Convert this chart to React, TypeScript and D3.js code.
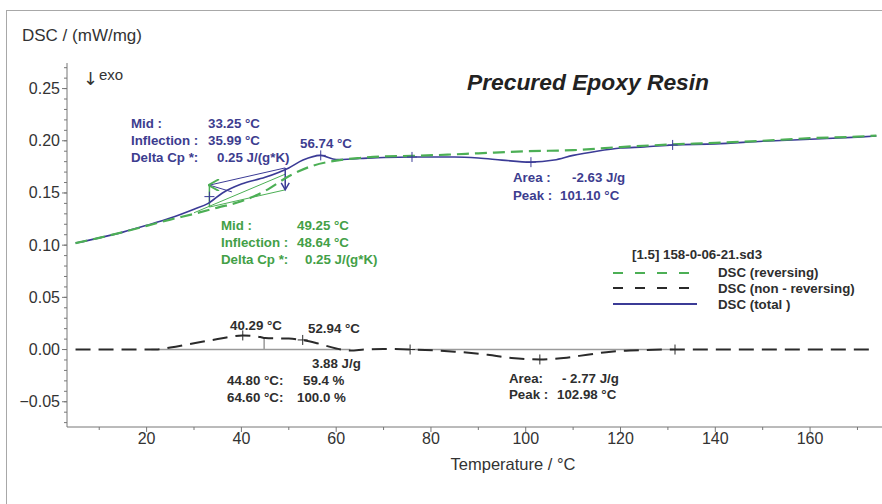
import React from "react";
import * as d3 from "d3";

// ---- data ----
const totalT = [5, 10, 15, 20, 25, 30, 33, 36, 40, 45, 50, 53, 56.7, 60, 65, 70, 76, 85, 90, 95, 101, 106, 110, 115, 120, 125, 131, 140, 150, 160, 170, 174];
const totalV = [0.102, 0.107, 0.1125, 0.119, 0.126, 0.1345, 0.14, 0.15, 0.1585, 0.165, 0.174, 0.1815, 0.186, 0.182, 0.183, 0.184, 0.1845, 0.1845, 0.1835, 0.1815, 0.1795, 0.1815, 0.186, 0.19, 0.193, 0.194, 0.196, 0.197, 0.1995, 0.2015, 0.2035, 0.2045];

const revT = [5, 10, 15, 20, 25, 30, 35, 40, 45, 50, 55, 60, 65, 70, 76, 85, 90, 100, 110, 120, 131, 140, 150, 160, 170, 174];
const revV = [0.102, 0.107, 0.1125, 0.1185, 0.1245, 0.13, 0.136, 0.142, 0.152, 0.166, 0.176, 0.181, 0.1835, 0.185, 0.1855, 0.187, 0.188, 0.19, 0.191, 0.194, 0.1965, 0.198, 0.2, 0.2025, 0.204, 0.205];

const nonRevT = [5, 15, 22, 25, 30, 35, 40.3, 44, 45, 50, 53, 56, 60, 63, 66, 70, 76, 85, 92, 97, 103, 108, 113, 118, 122, 131, 174];
const nonRevV = [0, 0, 0, 0.002, 0.006, 0.01, 0.0135, 0.012, 0.011, 0.0105, 0.009, 0.006, 0.001, -0.001, 0, 0.0005, 0, -0.002, -0.005, -0.008, -0.0095, -0.008, -0.005, -0.002, -0.001, 0, 0];

const totalMarksT = [33.25, 56.74, 76, 101.1, 131];
const totalMarksV = [0.1465, 0.186, 0.1845, 0.1795, 0.196];
const nonRevMarksT = [40.29, 52.94, 75.6, 102.98, 131.5];
const nonRevMarksV = [0.0135, 0.0092, 0, -0.0095, 0];

const yMajor = [-0.05, 0, 0.05, 0.1, 0.15, 0.2, 0.25];
const xLabels = [20, 40, 60, 80, 100, 120, 140, 160];
const xTicks = [10, 20, 30, 40, 50, 60, 70, 80, 90, 100, 110, 120, 130, 140, 150, 160, 170];

const BLUE = "#3b3b96";
const BLUE_TXT = "#3d3d8f";
const GREEN = "#4caf55";
const GREEN_TXT = "#43a047";
const BLACK = "#2a2a2a";
const TXT = "#333";

export default function App() {
  const x = d3.scaleLinear().domain([3.2, 175.6]).range([67, 884]);
  const y = d3.scaleLinear().domain([-0.0742, 0.2745]).range([427, 63]);

  const mk = (ts: number[], vs: number[]) =>
    d3
      .line<number>()
      .x((_, i) => x(ts[i]))
      .y((d) => y(d))
      .curve(d3.curveMonotoneX)(vs) || "";

  const yMinor = d3.range(-7, 28).map((i) => i / 100);

  const cross = (cx: number, cy: number, color: string, key: string) => (
    <g key={key} stroke={color} strokeWidth={1}>
      <line x1={cx - 5} x2={cx + 5} y1={cy} y2={cy} />
      <line x1={cx} x2={cx} y1={cy - 5} y2={cy + 5} />
    </g>
  );

  const ann = { fontFamily: "Liberation Sans, Arial, sans-serif", fontWeight: 700, fontSize: 13.3 } as const;

  return (
    <div style={{ position: "absolute", left: 0, top: 0 }}>
      <svg width={882} height={504} style={{ display: "block", background: "#fff" }}>
        <defs>
          <marker id="ag" viewBox="0 0 10 10" refX="5" refY="1" markerWidth="8" markerHeight="8" orient="auto-start-reverse">
            <path d="M0,9 L5,0 L10,9" fill="none" stroke={GREEN} strokeWidth={1.5} />
          </marker>
        </defs>
        <rect x={6.5} y={10.5} width={1000} height={1000} fill="none" stroke="#a8a8a8" />

        {/* axes */}
        <g stroke="#777" strokeWidth={1}>
          <line x1={67} x2={67} y1={63} y2={427} />
          <line x1={67} x2={884} y1={427} y2={427} />
          {yMinor.map((v) => (
            <line key={"ym" + v} x1={64} x2={67} y1={y(v)} y2={y(v)} />
          ))}
          {yMajor.map((v) => (
            <line key={"yM" + v} x1={62} x2={67} y1={y(v)} y2={y(v)} />
          ))}
          {xTicks.map((t) => (
            <line key={"xt" + t} x1={x(t)} x2={x(t)} y1={427} y2={t % 20 === 0 ? 432 : 430} />
          ))}
        </g>
        <g fontFamily="Liberation Sans, Arial, sans-serif" fontSize={16} fill={TXT}>
          {yMajor.map((v) => (
            <text key={"yl" + v} x={60} y={y(v)} textAnchor="end" dominantBaseline="central">
              {d3.format(".2f")(v)}
            </text>
          ))}
          {xLabels.map((t) => (
            <text key={"xl" + t} x={x(t)} y={438} textAnchor="middle" dominantBaseline="central">
              {t}
            </text>
          ))}
          <text x={513} y={464} textAnchor="middle" dominantBaseline="central" fontSize={16.5}>
            Temperature / °C
          </text>
          <text x={22} y={35} dominantBaseline="central" fontSize={17}>
            DSC / (mW/mg)
          </text>
          <text x={83} y={78} dominantBaseline="central" fontSize={18} fontFamily="DejaVu Sans, sans-serif">
            ↓
          </text>
          <text x={99} y={74} dominantBaseline="central" fontSize={15}>
            exo
          </text>
        </g>
        <text x={467} y={82} fontFamily="Liberation Sans, Arial, sans-serif" fontSize={22.8} fontWeight={700} fontStyle="italic" fill="#222" dominantBaseline="central">
          Precured Epoxy Resin
        </text>

        {/* integration baselines */}
        <g stroke="#9a9a9a" strokeWidth={1.5}>
          <line x1={x(21)} x2={x(63)} y1={y(0)} y2={y(0)} />
          <line x1={x(44.8)} x2={x(44.8)} y1={y(0)} y2={y(0.011)} />
          <line x1={x(76)} x2={x(131)} y1={y(0)} y2={y(0)} />
        </g>

        {/* glass transition construction lines */}
        <g strokeWidth={1}>
          <line x1={x(33.25)} y1={y(0.1575)} x2={x(49.25)} y2={y(0.174)} stroke={BLUE} />
          <line x1={x(33.25)} y1={y(0.1575)} x2={x(38)} y2={y(0.151)} stroke={BLUE} />
          <line x1={x(33.25)} y1={y(0.1365)} x2={x(49.25)} y2={y(0.153)} stroke={GREEN} />
          <line x1={x(30)} y1={y(0.131)} x2={x(49.25)} y2={y(0.168)} stroke={GREEN} />
          <line x1={x(33.25)} y1={y(0.1365)} x2={x(33.25)} y2={y(0.1575)} stroke={GREEN} strokeWidth={1.5} markerEnd="url(#ag)" />
          <line x1={x(49.25)} y1={y(0.174)} x2={x(49.25)} y2={y(0.153)} stroke={BLUE} strokeWidth={1.5} />
          <path d={`M${x(49.25) - 4},${y(0.153) - 7} L${x(49.25)},${y(0.153)} L${x(49.25) + 4},${y(0.153) - 7}`} fill="none" stroke={BLUE} strokeWidth={1.5} />
        </g>

        {/* curves */}
        <path d={mk(nonRevT, nonRevV)} fill="none" stroke={BLACK} strokeWidth={2} strokeDasharray="15,8" />
        <path d={mk(totalT, totalV)} fill="none" stroke={BLUE} strokeWidth={1.6} />
        <path d={mk(revT, revV)} fill="none" stroke={GREEN} strokeWidth={2.2} strokeDasharray="12,6" />

        {totalMarksT.map((t, i) => cross(x(t), y(totalMarksV[i]), BLUE, "tm" + i))}
        {nonRevMarksT.map((t, i) => cross(x(t), y(nonRevMarksV[i]), BLACK, "nm" + i))}

        {/* blue annotations */}
        <g {...ann} fill={BLUE_TXT} dominantBaseline="central">
          <text x={131} y={123}>Mid :</text>
          <text x={208} y={123}>33.25 °C</text>
          <text x={131} y={140}>Inflection :</text>
          <text x={208} y={140}>35.99 °C</text>
          <text x={131} y={157}>Delta Cp *:</text>
          <text x={217} y={157}>0.25 J/(g*K)</text>
          <text x={300} y={143}>56.74 °C</text>
          <text x={513} y={177}>Area :</text>
          <text x={572} y={177}>-2.63 J/g</text>
          <text x={513} y={195}>Peak :</text>
          <text x={560} y={195}>101.10 °C</text>
        </g>
        {/* green annotations */}
        <g {...ann} fill={GREEN_TXT} dominantBaseline="central">
          <text x={221} y={225}>Mid :</text>
          <text x={297} y={225}>49.25 °C</text>
          <text x={221} y={242}>Inflection :</text>
          <text x={297} y={242}>48.64 °C</text>
          <text x={221} y={259}>Delta Cp *:</text>
          <text x={305} y={259}>0.25 J/(g*K)</text>
        </g>
        {/* black annotations */}
        <g {...ann} fill="#2e2e2e" dominantBaseline="central">
          <text x={230} y={325}>40.29 °C</text>
          <text x={308} y={328}>52.94 °C</text>
          <text x={312} y={363}>3.88 J/g</text>
          <text x={227} y={380}>44.80 °C:</text>
          <text x={303} y={380}>59.4 %</text>
          <text x={227} y={397}>64.60 °C:</text>
          <text x={297} y={397}>100.0 %</text>
          <text x={509} y={378}>Area:</text>
          <text x={562} y={378}>- 2.77 J/g</text>
          <text x={509} y={394}>Peak :</text>
          <text x={557} y={394}>102.98 °C</text>
        </g>

        {/* legend */}
        <g {...ann} fill="#2e2e2e" dominantBaseline="central">
          <text x={632} y={254}>[1.5] 158-0-06-21.sd3</text>
          <text x={718} y={272}>DSC  (reversing)</text>
          <text x={718} y={288}>DSC  (non -  reversing)</text>
          <text x={718} y={304}>DSC  (total )</text>
        </g>
        <line x1={613} x2={693} y1={273} y2={273} stroke={GREEN} strokeWidth={2.2} strokeDasharray="10,12" />
        <line x1={613} x2={693} y1={288} y2={288} stroke={BLACK} strokeWidth={2.2} strokeDasharray="10,12" />
        <line x1={613} x2={697} y1={304} y2={304} stroke={BLUE} strokeWidth={1.8} />
      </svg>
    </div>
  );
}
